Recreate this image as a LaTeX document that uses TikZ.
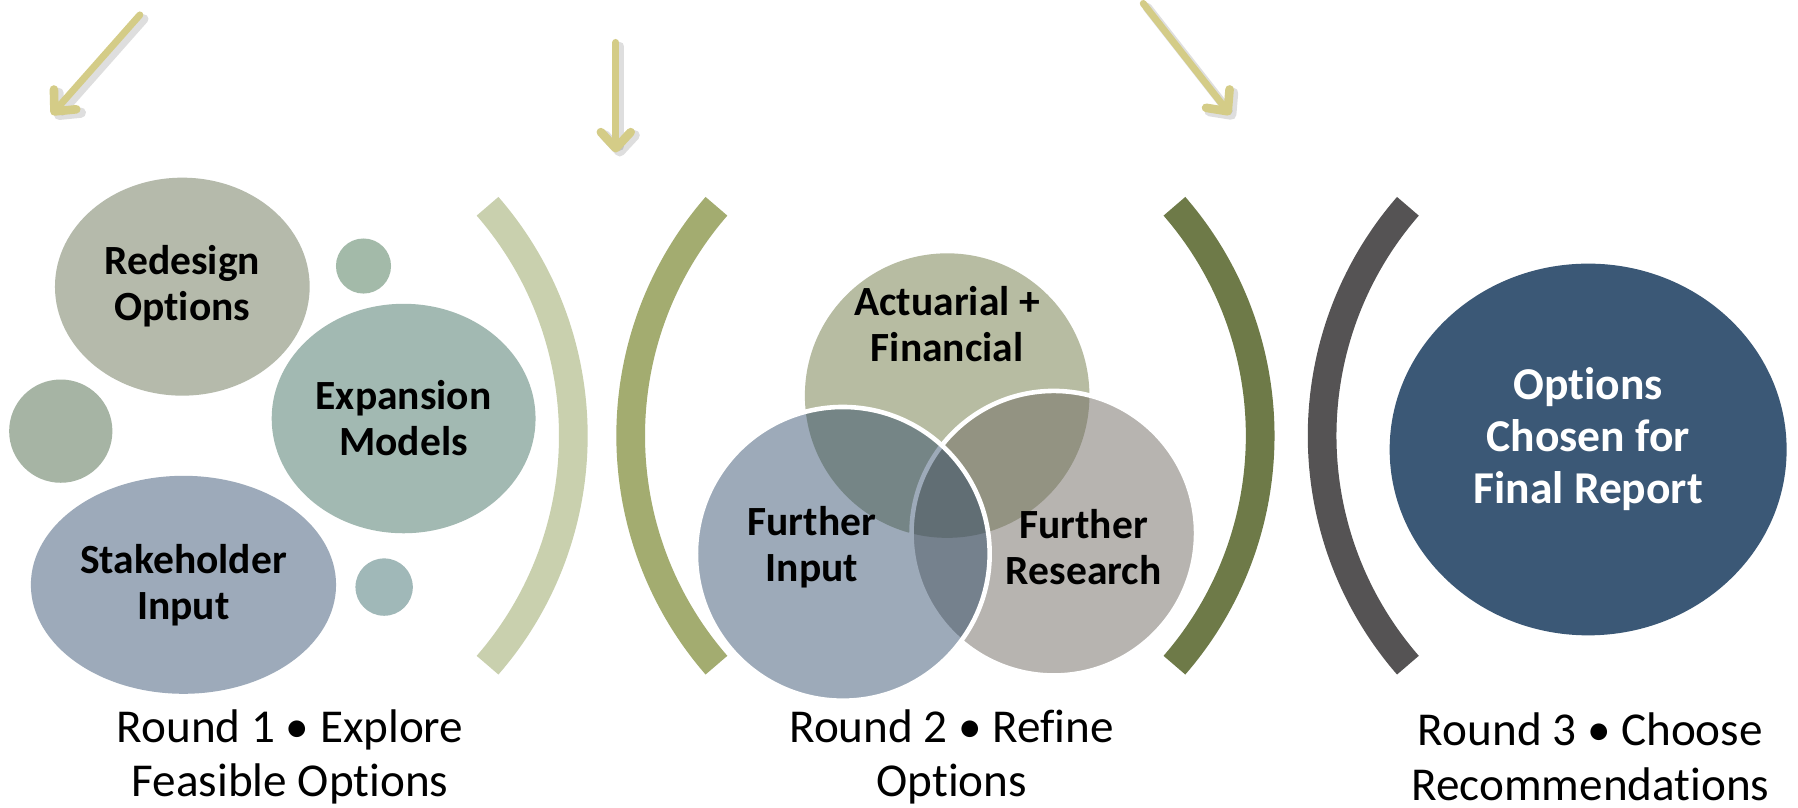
\documentclass[tikz,border=0pt]{standalone}
\usepackage{fontspec}
\setmainfont{Carlito}[Ligatures=NoCommon]
\usetikzlibrary{shapes.geometric,arrows.meta}
\definecolor{khaki}{RGB}{212,204,135}
\definecolor{brA}{RGB}{201,208,174}
\definecolor{brB}{RGB}{163,172,112}
\definecolor{brC}{RGB}{110,122,72}
\definecolor{brD}{RGB}{85,83,84}
\definecolor{cRedesign}{RGB}{181,186,171}
\definecolor{cExpansion}{RGB}{162,185,178}
\definecolor{cStake}{RGB}{157,170,186}
\definecolor{cSmallA}{RGB}{163,186,169}
\definecolor{cSmallB}{RGB}{166,180,164}
\definecolor{cSmallC}{RGB}{160,184,184}
\definecolor{cAct}{RGB}{183,188,162}
\definecolor{cRes}{RGB}{113,107,99}
\definecolor{cInp}{RGB}{38,67,100}
\definecolor{cFinal}{RGB}{59,88,118}
\tikzset{
  blob/.style={ellipse, inner sep=0pt, draw=none, align=center,
    font=\fontsize{10.3pt}{11.4pt}\selectfont\bfseries},
  roundlbl/.style={align=center, inner sep=0pt,
    font=\fontsize{11.7pt}{13.4pt}\selectfont},
  bracket/.style={line width=0.25cm},
  arrowline/.style={draw=khaki, line width=0.06cm, line cap=round,
    -{Straight Barb[length=0.14cm,width=0.26cm,round,line width=0.075cm]}},
  arrowshadow/.style={draw=black, opacity=0.13, line width=0.08cm, line cap=round,
    -{Straight Barb[length=0.14cm,width=0.26cm,round,line width=0.09cm]}},
  venn/.style={circle, inner sep=0pt},
  vennlbl/.style={align=center, inner sep=0pt,
    font=\fontsize{10.3pt}{11.4pt}\selectfont\bfseries}
}
\begin{document}
\begin{tikzpicture}[x=0.01cm,y=-0.01cm]
\useasboundingbox[fill=white] (0,0) rectangle (1568,704);

% arrows
\coordinate (a1s) at (122,13);  \coordinate (a1e) at (45,100);
\coordinate (a2s) at (537,37);  \coordinate (a2e) at (537,133);
\coordinate (a3s) at (997,3);   \coordinate (a3e) at (1073,100);
\begin{scope}[transform canvas={shift={(0.035cm,-0.035cm)}}]
\draw[arrowshadow] (a1s) -- (a1e);
\draw[arrowshadow] (a2s) -- (a2e);
\draw[arrowshadow] (a3s) -- (a3e);
\end{scope}
\draw[arrowline] (a1s) -- (a1e);
\draw[arrowline] (a2s) -- (a2e);
\draw[arrowline] (a3s) -- (a3e);

% brackets
\draw[bracket, draw=brA] (195,380) ++(-41:305) arc[start angle=-41, end angle=41, radius=305];
\draw[bracket, draw=brB] (855,380) ++(139:305) arc[start angle=139, end angle=221, radius=305];
\draw[bracket, draw=brC] (794,380) ++(-41:305) arc[start angle=-41, end angle=41, radius=305];
\draw[bracket, draw=brD] (1458,380) ++(139:305) arc[start angle=139, end angle=221, radius=305];

% stage 1
\node[blob, fill=cRedesign, minimum width=2.22cm, minimum height=1.90cm] (redesign) at (159,250) {Redesign\\Options};
\node[blob, fill=cExpansion, minimum width=2.30cm, minimum height=2.00cm] (expansion) at (352,365) {Expansion\\Models};
\node[blob, fill=cStake, minimum width=2.66cm, minimum height=1.90cm] (stake) at (160,510) {Stakeholder\\Input};
\node[circle, inner sep=0pt, fill=cSmallA, minimum size=0.48cm] (s1) at (317,232) {};
\node[circle, inner sep=0pt, fill=cSmallB, minimum size=0.90cm] (s2) at (53,376) {};
\node[circle, inner sep=0pt, fill=cSmallC, minimum size=0.50cm] (s3) at (335,512) {};

% stage 2 venn
\node[venn, fill=cAct, minimum size=2.48cm] (act) at (826,345) {};
\node[venn, fill=cRes, fill opacity=0.5, draw=white, line width=0.04cm, minimum size=2.48cm] (res) at (919,465) {};
\node[venn, fill=cInp, fill opacity=0.45, draw=white, line width=0.04cm, minimum size=2.56cm] (inp) at (735,483) {};
\node[vennlbl] (actl) at (826,283) {Actuarial +\\Financial};
\node[vennlbl] (inpl) at (708,477) {Further\\Input};
\node[vennlbl] (resl) at (945,477) {Further\\Research};

% stage 3
\node[ellipse, inner sep=0pt, fill=cFinal, minimum width=3.46cm, minimum height=3.24cm] (final) at (1385,392) {};
\node[align=center, inner sep=0pt, text=white,
  font=\fontsize{11.3pt}{12.8pt}\selectfont\bfseries] (finaltxt) at (1385,383) {Options\\Chosen for\\Final Report};

% round labels
\node[roundlbl] (r1) at (253,660) {Round 1 • Explore\\Feasible Options};
\node[roundlbl] (r2) at (830,660) {Round 2 • Refine\\Options};
\node[roundlbl] (r3) at (1387,660) {Round 3 • Choose\\Recommendations};
\end{tikzpicture}
\end{document}
